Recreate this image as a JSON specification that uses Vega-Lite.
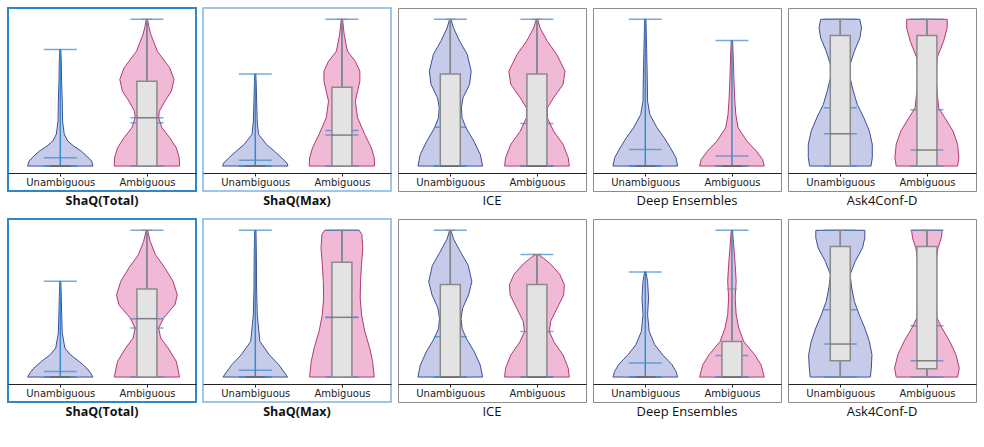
{
"$schema": "https://vega.github.io/schema/vega-lite/v6.json",
"padding": {"left": 7, "top": 7, "right": 0, "bottom": 0},
"background": "white",
"columns": 5,
"spacing": {"row": 9, "column": 5},
"data": {"values": [
{"k":"v","p":1,"g":1,"v":0,"w":1},{"k":"v","p":1,"g":1,"v":0.034,"w":0.96},{"k":"v","p":1,"g":1,"v":0.068,"w":0.81},{"k":"v","p":1,"g":1,"v":0.102,"w":0.64},{"k":"v","p":1,"g":1,"v":0.136,"w":0.41},{"k":"v","p":1,"g":1,"v":0.17,"w":0.23},{"k":"v","p":1,"g":1,"v":0.218,"w":0.12},{"k":"v","p":1,"g":1,"v":0.306,"w":0.07},{"k":"v","p":1,"g":1,"v":0.442,"w":0.06},{"k":"v","p":1,"g":1,"v":0.578,"w":0.04},{"k":"v","p":1,"g":1,"v":0.714,"w":0.03},{"k":"v","p":1,"g":1,"v":0.794,"w":0.015},
{"k":"v","p":1,"g":2,"v":0,"w":1},{"k":"v","p":1,"g":2,"v":0.056,"w":0.99},{"k":"v","p":1,"g":2,"v":0.124,"w":0.9},{"k":"v","p":1,"g":2,"v":0.193,"w":0.7},{"k":"v","p":1,"g":2,"v":0.261,"w":0.46},{"k":"v","p":1,"g":2,"v":0.329,"w":0.36},{"k":"v","p":1,"g":2,"v":0.374,"w":0.38},{"k":"v","p":1,"g":2,"v":0.442,"w":0.55},{"k":"v","p":1,"g":2,"v":0.51,"w":0.75},{"k":"v","p":1,"g":2,"v":0.59,"w":0.83},{"k":"v","p":1,"g":2,"v":0.669,"w":0.7},{"k":"v","p":1,"g":2,"v":0.782,"w":0.32},{"k":"v","p":1,"g":2,"v":0.896,"w":0.12},{"k":"v","p":1,"g":2,"v":0.95,"w":0.06},{"k":"v","p":1,"g":2,"v":1,"w":0.02},
{"k":"v","p":2,"g":1,"v":0,"w":1},{"k":"v","p":2,"g":1,"v":0.02,"w":0.97},{"k":"v","p":2,"g":1,"v":0.056,"w":0.81},{"k":"v","p":2,"g":1,"v":0.102,"w":0.58},{"k":"v","p":2,"g":1,"v":0.148,"w":0.34},{"k":"v","p":2,"g":1,"v":0.216,"w":0.1},{"k":"v","p":2,"g":1,"v":0.3,"w":0.06},{"k":"v","p":2,"g":1,"v":0.45,"w":0.04},{"k":"v","p":2,"g":1,"v":0.55,"w":0.03},{"k":"v","p":2,"g":1,"v":0.628,"w":0.015},
{"k":"v","p":2,"g":2,"v":0,"w":1},{"k":"v","p":2,"g":2,"v":0.056,"w":0.99},{"k":"v","p":2,"g":2,"v":0.124,"w":0.9},{"k":"v","p":2,"g":2,"v":0.216,"w":0.7},{"k":"v","p":2,"g":2,"v":0.329,"w":0.48},{"k":"v","p":2,"g":2,"v":0.442,"w":0.41},{"k":"v","p":2,"g":2,"v":0.51,"w":0.48},{"k":"v","p":2,"g":2,"v":0.578,"w":0.55},{"k":"v","p":2,"g":2,"v":0.646,"w":0.55},{"k":"v","p":2,"g":2,"v":0.714,"w":0.41},{"k":"v","p":2,"g":2,"v":0.782,"w":0.17},{"k":"v","p":2,"g":2,"v":0.896,"w":0.07},{"k":"v","p":2,"g":2,"v":1,"w":0.02},
{"k":"v","p":3,"g":1,"v":0,"w":0.99},{"k":"v","p":3,"g":1,"v":0.079,"w":0.92},{"k":"v","p":3,"g":1,"v":0.17,"w":0.72},{"k":"v","p":3,"g":1,"v":0.261,"w":0.48},{"k":"v","p":3,"g":1,"v":0.329,"w":0.36},{"k":"v","p":3,"g":1,"v":0.397,"w":0.34},{"k":"v","p":3,"g":1,"v":0.465,"w":0.39},{"k":"v","p":3,"g":1,"v":0.556,"w":0.59},{"k":"v","p":3,"g":1,"v":0.646,"w":0.64},{"k":"v","p":3,"g":1,"v":0.76,"w":0.52},{"k":"v","p":3,"g":1,"v":0.85,"w":0.29},{"k":"v","p":3,"g":1,"v":0.94,"w":0.1},{"k":"v","p":3,"g":1,"v":1,"w":0.02},
{"k":"v","p":3,"g":2,"v":0,"w":0.99},{"k":"v","p":3,"g":2,"v":0.056,"w":0.96},{"k":"v","p":3,"g":2,"v":0.148,"w":0.8},{"k":"v","p":3,"g":2,"v":0.238,"w":0.51},{"k":"v","p":3,"g":2,"v":0.329,"w":0.32},{"k":"v","p":3,"g":2,"v":0.397,"w":0.32},{"k":"v","p":3,"g":2,"v":0.465,"w":0.51},{"k":"v","p":3,"g":2,"v":0.556,"w":0.8},{"k":"v","p":3,"g":2,"v":0.646,"w":0.86},{"k":"v","p":3,"g":2,"v":0.76,"w":0.61},{"k":"v","p":3,"g":2,"v":0.85,"w":0.32},{"k":"v","p":3,"g":2,"v":0.94,"w":0.1},{"k":"v","p":3,"g":2,"v":1,"w":0.02},
{"k":"v","p":4,"g":1,"v":0,"w":0.99},{"k":"v","p":4,"g":1,"v":0.056,"w":0.94},{"k":"v","p":4,"g":1,"v":0.124,"w":0.77},{"k":"v","p":4,"g":1,"v":0.193,"w":0.58},{"k":"v","p":4,"g":1,"v":0.261,"w":0.36},{"k":"v","p":4,"g":1,"v":0.351,"w":0.14},{"k":"v","p":4,"g":1,"v":0.442,"w":0.07},{"k":"v","p":4,"g":1,"v":0.6,"w":0.06},{"k":"v","p":4,"g":1,"v":0.8,"w":0.04},{"k":"v","p":4,"g":1,"v":1,"w":0.02},
{"k":"v","p":4,"g":2,"v":0,"w":0.99},{"k":"v","p":4,"g":2,"v":0.045,"w":0.94},{"k":"v","p":4,"g":2,"v":0.102,"w":0.75},{"k":"v","p":4,"g":2,"v":0.17,"w":0.46},{"k":"v","p":4,"g":2,"v":0.261,"w":0.19},{"k":"v","p":4,"g":2,"v":0.35,"w":0.12},{"k":"v","p":4,"g":2,"v":0.442,"w":0.09},{"k":"v","p":4,"g":2,"v":0.6,"w":0.06},{"k":"v","p":4,"g":2,"v":0.75,"w":0.04},{"k":"v","p":4,"g":2,"v":0.855,"w":0.02},
{"k":"v","p":5,"g":1,"v":0,"w":0.94},{"k":"v","p":5,"g":1,"v":0.056,"w":0.98},{"k":"v","p":5,"g":1,"v":0.148,"w":0.98},{"k":"v","p":5,"g":1,"v":0.238,"w":0.89},{"k":"v","p":5,"g":1,"v":0.329,"w":0.72},{"k":"v","p":5,"g":1,"v":0.42,"w":0.52},{"k":"v","p":5,"g":1,"v":0.51,"w":0.4},{"k":"v","p":5,"g":1,"v":0.601,"w":0.3},{"k":"v","p":5,"g":1,"v":0.692,"w":0.3},{"k":"v","p":5,"g":1,"v":0.782,"w":0.43},{"k":"v","p":5,"g":1,"v":0.873,"w":0.6},{"k":"v","p":5,"g":1,"v":0.941,"w":0.65},{"k":"v","p":5,"g":1,"v":1,"w":0.6},
{"k":"v","p":5,"g":2,"v":0,"w":0.94},{"k":"v","p":5,"g":2,"v":0.056,"w":0.98},{"k":"v","p":5,"g":2,"v":0.148,"w":0.94},{"k":"v","p":5,"g":2,"v":0.238,"w":0.8},{"k":"v","p":5,"g":2,"v":0.329,"w":0.55},{"k":"v","p":5,"g":2,"v":0.397,"w":0.36},{"k":"v","p":5,"g":2,"v":0.51,"w":0.31},{"k":"v","p":5,"g":2,"v":0.624,"w":0.28},{"k":"v","p":5,"g":2,"v":0.737,"w":0.31},{"k":"v","p":5,"g":2,"v":0.85,"w":0.51},{"k":"v","p":5,"g":2,"v":0.941,"w":0.62},{"k":"v","p":5,"g":2,"v":1,"w":0.62},
{"k":"v","p":6,"g":1,"v":0,"w":1},{"k":"v","p":6,"g":1,"v":0.03,"w":0.92},{"k":"v","p":6,"g":1,"v":0.061,"w":0.81},{"k":"v","p":6,"g":1,"v":0.106,"w":0.58},{"k":"v","p":6,"g":1,"v":0.152,"w":0.31},{"k":"v","p":6,"g":1,"v":0.198,"w":0.14},{"k":"v","p":6,"g":1,"v":0.3,"w":0.06},{"k":"v","p":6,"g":1,"v":0.45,"w":0.04},{"k":"v","p":6,"g":1,"v":0.55,"w":0.03},{"k":"v","p":6,"g":1,"v":0.652,"w":0.015},
{"k":"v","p":6,"g":2,"v":0,"w":1},{"k":"v","p":6,"g":2,"v":0.106,"w":0.9},{"k":"v","p":6,"g":2,"v":0.198,"w":0.65},{"k":"v","p":6,"g":2,"v":0.266,"w":0.42},{"k":"v","p":6,"g":2,"v":0.334,"w":0.36},{"k":"v","p":6,"g":2,"v":0.402,"w":0.51},{"k":"v","p":6,"g":2,"v":0.493,"w":0.86},{"k":"v","p":6,"g":2,"v":0.561,"w":0.93},{"k":"v","p":6,"g":2,"v":0.652,"w":0.8},{"k":"v","p":6,"g":2,"v":0.744,"w":0.55},{"k":"v","p":6,"g":2,"v":0.834,"w":0.26},{"k":"v","p":6,"g":2,"v":0.925,"w":0.1},{"k":"v","p":6,"g":2,"v":1,"w":0.02},
{"k":"v","p":7,"g":1,"v":0,"w":0.99},{"k":"v","p":7,"g":1,"v":0.038,"w":0.87},{"k":"v","p":7,"g":1,"v":0.084,"w":0.72},{"k":"v","p":7,"g":1,"v":0.152,"w":0.43},{"k":"v","p":7,"g":1,"v":0.243,"w":0.14},{"k":"v","p":7,"g":1,"v":0.425,"w":0.06},{"k":"v","p":7,"g":1,"v":0.6,"w":0.04},{"k":"v","p":7,"g":1,"v":0.8,"w":0.035},{"k":"v","p":7,"g":1,"v":1,"w":0.02},
{"k":"v","p":7,"g":2,"v":0,"w":0.99},{"k":"v","p":7,"g":2,"v":0.106,"w":0.94},{"k":"v","p":7,"g":2,"v":0.198,"w":0.85},{"k":"v","p":7,"g":2,"v":0.311,"w":0.7},{"k":"v","p":7,"g":2,"v":0.425,"w":0.6},{"k":"v","p":7,"g":2,"v":0.539,"w":0.56},{"k":"v","p":7,"g":2,"v":0.652,"w":0.57},{"k":"v","p":7,"g":2,"v":0.766,"w":0.6},{"k":"v","p":7,"g":2,"v":0.88,"w":0.64},{"k":"v","p":7,"g":2,"v":0.971,"w":0.61},{"k":"v","p":7,"g":2,"v":1,"w":0.53},
{"k":"v","p":8,"g":1,"v":0,"w":0.99},{"k":"v","p":8,"g":1,"v":0.08,"w":0.92},{"k":"v","p":8,"g":1,"v":0.17,"w":0.74},{"k":"v","p":8,"g":1,"v":0.26,"w":0.5},{"k":"v","p":8,"g":1,"v":0.33,"w":0.36},{"k":"v","p":8,"g":1,"v":0.4,"w":0.33},{"k":"v","p":8,"g":1,"v":0.47,"w":0.38},{"k":"v","p":8,"g":1,"v":0.56,"w":0.56},{"k":"v","p":8,"g":1,"v":0.65,"w":0.66},{"k":"v","p":8,"g":1,"v":0.76,"w":0.55},{"k":"v","p":8,"g":1,"v":0.85,"w":0.32},{"k":"v","p":8,"g":1,"v":0.94,"w":0.1},{"k":"v","p":8,"g":1,"v":1,"w":0.02},
{"k":"v","p":8,"g":2,"v":0,"w":0.99},{"k":"v","p":8,"g":2,"v":0.06,"w":0.96},{"k":"v","p":8,"g":2,"v":0.15,"w":0.8},{"k":"v","p":8,"g":2,"v":0.24,"w":0.52},{"k":"v","p":8,"g":2,"v":0.31,"w":0.38},{"k":"v","p":8,"g":2,"v":0.38,"w":0.42},{"k":"v","p":8,"g":2,"v":0.47,"w":0.62},{"k":"v","p":8,"g":2,"v":0.56,"w":0.82},{"k":"v","p":8,"g":2,"v":0.63,"w":0.84},{"k":"v","p":8,"g":2,"v":0.7,"w":0.7},{"k":"v","p":8,"g":2,"v":0.77,"w":0.42},{"k":"v","p":8,"g":2,"v":0.81,"w":0.2},{"k":"v","p":8,"g":2,"v":0.835,"w":0.04},
{"k":"v","p":9,"g":1,"v":0,"w":0.99},{"k":"v","p":9,"g":1,"v":0.038,"w":0.94},{"k":"v","p":9,"g":1,"v":0.084,"w":0.82},{"k":"v","p":9,"g":1,"v":0.152,"w":0.53},{"k":"v","p":9,"g":1,"v":0.22,"w":0.29},{"k":"v","p":9,"g":1,"v":0.311,"w":0.12},{"k":"v","p":9,"g":1,"v":0.425,"w":0.07},{"k":"v","p":9,"g":1,"v":0.539,"w":0.1},{"k":"v","p":9,"g":1,"v":0.652,"w":0.07},{"k":"v","p":9,"g":1,"v":0.716,"w":0.02},
{"k":"v","p":9,"g":2,"v":0,"w":0.99},{"k":"v","p":9,"g":2,"v":0.084,"w":0.89},{"k":"v","p":9,"g":2,"v":0.152,"w":0.7},{"k":"v","p":9,"g":2,"v":0.243,"w":0.36},{"k":"v","p":9,"g":2,"v":0.334,"w":0.21},{"k":"v","p":9,"g":2,"v":0.425,"w":0.13},{"k":"v","p":9,"g":2,"v":0.539,"w":0.1},{"k":"v","p":9,"g":2,"v":0.652,"w":0.13},{"k":"v","p":9,"g":2,"v":0.766,"w":0.1},{"k":"v","p":9,"g":2,"v":0.88,"w":0.06},{"k":"v","p":9,"g":2,"v":1,"w":0.02},
{"k":"v","p":10,"g":1,"v":0,"w":0.92},{"k":"v","p":10,"g":1,"v":0.061,"w":0.95},{"k":"v","p":10,"g":1,"v":0.152,"w":0.97},{"k":"v","p":10,"g":1,"v":0.243,"w":0.89},{"k":"v","p":10,"g":1,"v":0.334,"w":0.75},{"k":"v","p":10,"g":1,"v":0.425,"w":0.58},{"k":"v","p":10,"g":1,"v":0.516,"w":0.43},{"k":"v","p":10,"g":1,"v":0.607,"w":0.35},{"k":"v","p":10,"g":1,"v":0.698,"w":0.3},{"k":"v","p":10,"g":1,"v":0.789,"w":0.46},{"k":"v","p":10,"g":1,"v":0.88,"w":0.68},{"k":"v","p":10,"g":1,"v":0.948,"w":0.75},{"k":"v","p":10,"g":1,"v":1,"w":0.75},
{"k":"v","p":10,"g":2,"v":0,"w":0.94},{"k":"v","p":10,"g":2,"v":0.061,"w":0.99},{"k":"v","p":10,"g":2,"v":0.152,"w":0.89},{"k":"v","p":10,"g":2,"v":0.243,"w":0.7},{"k":"v","p":10,"g":2,"v":0.334,"w":0.46},{"k":"v","p":10,"g":2,"v":0.402,"w":0.31},{"k":"v","p":10,"g":2,"v":0.516,"w":0.28},{"k":"v","p":10,"g":2,"v":0.652,"w":0.28},{"k":"v","p":10,"g":2,"v":0.789,"w":0.28},{"k":"v","p":10,"g":2,"v":0.88,"w":0.34},{"k":"v","p":10,"g":2,"v":0.948,"w":0.44},{"k":"v","p":10,"g":2,"v":1,"w":0.47},
{"k":"s","p":1,"g":1,"mn":0,"q1":0,"md":0,"q3":0,"mx":0.794,"mean":0.056,"wl":0,"wh":0},
{"k":"s","p":1,"g":2,"mn":0,"q1":0,"md":0.329,"q3":0.578,"mx":1,"mean":0.295,"wl":0,"wh":1},
{"k":"s","p":2,"g":1,"mn":0,"q1":0,"md":0,"q3":0,"mx":0.628,"mean":0.039,"wl":0,"wh":0},
{"k":"s","p":2,"g":2,"mn":0,"q1":0,"md":0.211,"q3":0.537,"mx":1,"mean":0.243,"wl":0,"wh":1},
{"k":"s","p":3,"g":1,"mn":0,"q1":0,"md":0,"q3":0.628,"mx":1,"mean":0.265,"wl":0,"wh":1},
{"k":"s","p":3,"g":2,"mn":0,"q1":0,"md":0,"q3":0.628,"mx":1,"mean":0.29,"wl":0,"wh":1},
{"k":"s","p":4,"g":1,"mn":0,"q1":0,"md":0,"q3":0,"mx":1,"mean":0.113,"wl":0,"wh":0},
{"k":"s","p":4,"g":2,"mn":0,"q1":0,"md":0,"q3":0,"mx":0.855,"mean":0.068,"wl":0,"wh":0},
{"k":"s","p":5,"g":1,"mn":0,"q1":0,"md":0.22,"q3":0.889,"mx":1,"mean":0.397,"wl":0,"wh":1},
{"k":"s","p":5,"g":2,"mn":0,"q1":0,"md":0.109,"q3":0.889,"mx":1,"mean":0.383,"wl":0,"wh":1},
{"k":"s","p":6,"g":1,"mn":0,"q1":0,"md":0,"q3":0,"mx":0.652,"mean":0.038,"wl":0,"wh":0},
{"k":"s","p":6,"g":2,"mn":0,"q1":0,"md":0.398,"q3":0.6,"mx":1,"mean":0.334,"wl":0,"wh":1},
{"k":"s","p":7,"g":1,"mn":0,"q1":0,"md":0,"q3":0,"mx":1,"mean":0.047,"wl":0,"wh":0},
{"k":"s","p":7,"g":2,"mn":0,"q1":0,"md":0.407,"q3":0.782,"mx":1,"mean":0.405,"wl":0,"wh":1},
{"k":"s","p":8,"g":1,"mn":0,"q1":0,"md":0,"q3":0.63,"mx":1,"mean":0.275,"wl":0,"wh":1},
{"k":"s","p":8,"g":2,"mn":0,"q1":0,"md":0,"q3":0.63,"mx":0.835,"mean":0.31,"wl":0,"wh":0.835},
{"k":"s","p":9,"g":1,"mn":0,"q1":0,"md":0,"q3":0,"mx":0.716,"mean":0.095,"wl":0,"wh":0},
{"k":"s","p":9,"g":2,"mn":0,"q1":0,"md":0,"q3":0.243,"mx":1,"mean":0.147,"wl":0,"wh":0.6},
{"k":"s","p":10,"g":1,"mn":0,"q1":0.111,"md":0.225,"q3":0.889,"mx":1,"mean":0.459,"wl":0,"wh":1},
{"k":"s","p":10,"g":2,"mn":0,"q1":0.057,"md":0.111,"q3":0.889,"mx":1,"mean":0.35,"wl":0,"wh":1}
]},
"concat": [
{"width":188,"height":183,"view":{"stroke":"#2f86c8","strokeWidth":2},"title":{"text":"ShaQ(Total)","fontWeight":"bold","fontSize":12.5},"transform":[{"filter":"datum.p==1"}],"resolve":{"axis":{"x":"independent","y":"independent"}},"layer":[
{"transform":[{"filter":"datum.k=='v'"},{"calculate":"datum.g-0.377*datum.w","as":"lo"},{"calculate":"datum.g+0.377*datum.w","as":"hi"}],"mark":{"type":"area","orient":"horizontal","strokeWidth":1},"encoding":{"y":{"field":"v","type":"quantitative","scale":{"domain":[-0.17,1.077],"nice":false,"zero":false},"axis":null},"x":{"field":"lo","type":"quantitative","scale":{"domain":[0.454,2.509],"nice":false,"zero":false},"axis":{"values":[1,2],"labelExpr":"datum.value==1?'Unambiguous':'Ambiguous'","title":null,"offset":-18,"grid":false,"domainColor":"#222","domainWidth":1.2,"tickColor":"#222","tickSize":3,"labelFont":"DejaVu Sans","labelFontSize":10,"labelColor":"#222","labelPadding":1}},"x2":{"field":"hi"},"fill":{"field":"g","type":"nominal","scale":{"domain":[1,2],"range":["#c6cbea","#f0bad6"]},"legend":null},"stroke":{"field":"g","type":"nominal","scale":{"domain":[1,2],"range":["#3d4f96","#b03a72"]},"legend":null}}},
{"transform":[{"filter":"datum.k=='s'"}],"mark":{"type":"rule","color":"#3b88cc","strokeWidth":1.5},"encoding":{"x":{"field":"g","type":"quantitative","axis":null},"y":{"field":"mn","type":"quantitative","axis":null},"y2":{"field":"mx"}}},
{"transform":[{"filter":"datum.k=='s'"},{"fold":["mn","mx","mean","md"],"as":["key","val"]}],"mark":{"type":"tick","orient":"horizontal","color":"#3b88cc","size":33,"thickness":1.5},"encoding":{"x":{"field":"g","type":"quantitative","axis":null},"y":{"field":"val","type":"quantitative","axis":null}}},
{"transform":[{"filter":"datum.k=='s'"}],"mark":{"type":"rule","color":"#8a8a8a","strokeWidth":1.5},"encoding":{"x":{"field":"g","type":"quantitative","axis":null},"y":{"field":"wl","type":"quantitative","axis":null},"y2":{"field":"wh"}}},
{"transform":[{"filter":"datum.k=='s'"},{"fold":["wl","wh"],"as":["key","val"]}],"mark":{"type":"tick","orient":"horizontal","color":"#8a8a8a","size":10,"thickness":1.5},"encoding":{"x":{"field":"g","type":"quantitative","axis":null},"y":{"field":"val","type":"quantitative","axis":null}}},
{"transform":[{"filter":"datum.k=='s'"}],"mark":{"type":"bar","size":20,"fill":"#e3e3e3","stroke":"#8a8a8a","strokeWidth":1.5},"encoding":{"x":{"field":"g","type":"quantitative","axis":null},"y":{"field":"q1","type":"quantitative","axis":null},"y2":{"field":"q3"}}},
{"transform":[{"filter":"datum.k=='s'"}],"mark":{"type":"tick","orient":"horizontal","color":"#555555","size":20,"thickness":1.5},"encoding":{"x":{"field":"g","type":"quantitative","axis":null},"y":{"field":"md","type":"quantitative","axis":null}}}
]},
{"width":188,"height":183,"view":{"stroke":"#7fb3e3","strokeWidth":1.5},"title":{"text":"ShaQ(Max)","fontWeight":"bold","fontSize":12.5},"transform":[{"filter":"datum.p==2"}],"resolve":{"axis":{"x":"independent","y":"independent"}},"layer":[
{"transform":[{"filter":"datum.k=='v'"},{"calculate":"datum.g-0.377*datum.w","as":"lo"},{"calculate":"datum.g+0.377*datum.w","as":"hi"}],"mark":{"type":"area","orient":"horizontal","strokeWidth":1},"encoding":{"y":{"field":"v","type":"quantitative","scale":{"domain":[-0.17,1.077],"nice":false,"zero":false},"axis":null},"x":{"field":"lo","type":"quantitative","scale":{"domain":[0.454,2.509],"nice":false,"zero":false},"axis":{"values":[1,2],"labelExpr":"datum.value==1?'Unambiguous':'Ambiguous'","title":null,"offset":-18,"grid":false,"domainColor":"#222","domainWidth":1.2,"tickColor":"#222","tickSize":3,"labelFont":"DejaVu Sans","labelFontSize":10,"labelColor":"#222","labelPadding":1}},"x2":{"field":"hi"},"fill":{"field":"g","type":"nominal","scale":{"domain":[1,2],"range":["#c6cbea","#f0bad6"]},"legend":null},"stroke":{"field":"g","type":"nominal","scale":{"domain":[1,2],"range":["#3d4f96","#b03a72"]},"legend":null}}},
{"transform":[{"filter":"datum.k=='s'"}],"mark":{"type":"rule","color":"#3b88cc","strokeWidth":1.5},"encoding":{"x":{"field":"g","type":"quantitative","axis":null},"y":{"field":"mn","type":"quantitative","axis":null},"y2":{"field":"mx"}}},
{"transform":[{"filter":"datum.k=='s'"},{"fold":["mn","mx","mean","md"],"as":["key","val"]}],"mark":{"type":"tick","orient":"horizontal","color":"#3b88cc","size":33,"thickness":1.5},"encoding":{"x":{"field":"g","type":"quantitative","axis":null},"y":{"field":"val","type":"quantitative","axis":null}}},
{"transform":[{"filter":"datum.k=='s'"}],"mark":{"type":"rule","color":"#8a8a8a","strokeWidth":1.5},"encoding":{"x":{"field":"g","type":"quantitative","axis":null},"y":{"field":"wl","type":"quantitative","axis":null},"y2":{"field":"wh"}}},
{"transform":[{"filter":"datum.k=='s'"},{"fold":["wl","wh"],"as":["key","val"]}],"mark":{"type":"tick","orient":"horizontal","color":"#8a8a8a","size":10,"thickness":1.5},"encoding":{"x":{"field":"g","type":"quantitative","axis":null},"y":{"field":"val","type":"quantitative","axis":null}}},
{"transform":[{"filter":"datum.k=='s'"}],"mark":{"type":"bar","size":20,"fill":"#e3e3e3","stroke":"#8a8a8a","strokeWidth":1.5},"encoding":{"x":{"field":"g","type":"quantitative","axis":null},"y":{"field":"q1","type":"quantitative","axis":null},"y2":{"field":"q3"}}},
{"transform":[{"filter":"datum.k=='s'"}],"mark":{"type":"tick","orient":"horizontal","color":"#555555","size":20,"thickness":1.5},"encoding":{"x":{"field":"g","type":"quantitative","axis":null},"y":{"field":"md","type":"quantitative","axis":null}}}
]},
{"width":188,"height":183,"title":{"text":"ICE"},"transform":[{"filter":"datum.p==3"}],"resolve":{"axis":{"x":"independent","y":"independent"}},"layer":[
{"transform":[{"filter":"datum.k=='v'"},{"calculate":"datum.g-0.377*datum.w","as":"lo"},{"calculate":"datum.g+0.377*datum.w","as":"hi"}],"mark":{"type":"area","orient":"horizontal","strokeWidth":1},"encoding":{"y":{"field":"v","type":"quantitative","scale":{"domain":[-0.17,1.077],"nice":false,"zero":false},"axis":null},"x":{"field":"lo","type":"quantitative","scale":{"domain":[0.454,2.509],"nice":false,"zero":false},"axis":{"values":[1,2],"labelExpr":"datum.value==1?'Unambiguous':'Ambiguous'","title":null,"offset":-18,"grid":false,"domainColor":"#222","domainWidth":1.2,"tickColor":"#222","tickSize":3,"labelFont":"DejaVu Sans","labelFontSize":10,"labelColor":"#222","labelPadding":1}},"x2":{"field":"hi"},"fill":{"field":"g","type":"nominal","scale":{"domain":[1,2],"range":["#c6cbea","#f0bad6"]},"legend":null},"stroke":{"field":"g","type":"nominal","scale":{"domain":[1,2],"range":["#3d4f96","#b03a72"]},"legend":null}}},
{"transform":[{"filter":"datum.k=='s'"}],"mark":{"type":"rule","color":"#3b88cc","strokeWidth":1.5},"encoding":{"x":{"field":"g","type":"quantitative","axis":null},"y":{"field":"mn","type":"quantitative","axis":null},"y2":{"field":"mx"}}},
{"transform":[{"filter":"datum.k=='s'"},{"fold":["mn","mx","mean","md"],"as":["key","val"]}],"mark":{"type":"tick","orient":"horizontal","color":"#3b88cc","size":33,"thickness":1.5},"encoding":{"x":{"field":"g","type":"quantitative","axis":null},"y":{"field":"val","type":"quantitative","axis":null}}},
{"transform":[{"filter":"datum.k=='s'"}],"mark":{"type":"rule","color":"#8a8a8a","strokeWidth":1.5},"encoding":{"x":{"field":"g","type":"quantitative","axis":null},"y":{"field":"wl","type":"quantitative","axis":null},"y2":{"field":"wh"}}},
{"transform":[{"filter":"datum.k=='s'"},{"fold":["wl","wh"],"as":["key","val"]}],"mark":{"type":"tick","orient":"horizontal","color":"#8a8a8a","size":10,"thickness":1.5},"encoding":{"x":{"field":"g","type":"quantitative","axis":null},"y":{"field":"val","type":"quantitative","axis":null}}},
{"transform":[{"filter":"datum.k=='s'"}],"mark":{"type":"bar","size":20,"fill":"#e3e3e3","stroke":"#8a8a8a","strokeWidth":1.5},"encoding":{"x":{"field":"g","type":"quantitative","axis":null},"y":{"field":"q1","type":"quantitative","axis":null},"y2":{"field":"q3"}}},
{"transform":[{"filter":"datum.k=='s'"}],"mark":{"type":"tick","orient":"horizontal","color":"#555555","size":20,"thickness":1.5},"encoding":{"x":{"field":"g","type":"quantitative","axis":null},"y":{"field":"md","type":"quantitative","axis":null}}}
]},
{"width":188,"height":183,"title":{"text":"Deep Ensembles"},"transform":[{"filter":"datum.p==4"}],"resolve":{"axis":{"x":"independent","y":"independent"}},"layer":[
{"transform":[{"filter":"datum.k=='v'"},{"calculate":"datum.g-0.377*datum.w","as":"lo"},{"calculate":"datum.g+0.377*datum.w","as":"hi"}],"mark":{"type":"area","orient":"horizontal","strokeWidth":1},"encoding":{"y":{"field":"v","type":"quantitative","scale":{"domain":[-0.17,1.077],"nice":false,"zero":false},"axis":null},"x":{"field":"lo","type":"quantitative","scale":{"domain":[0.454,2.509],"nice":false,"zero":false},"axis":{"values":[1,2],"labelExpr":"datum.value==1?'Unambiguous':'Ambiguous'","title":null,"offset":-18,"grid":false,"domainColor":"#222","domainWidth":1.2,"tickColor":"#222","tickSize":3,"labelFont":"DejaVu Sans","labelFontSize":10,"labelColor":"#222","labelPadding":1}},"x2":{"field":"hi"},"fill":{"field":"g","type":"nominal","scale":{"domain":[1,2],"range":["#c6cbea","#f0bad6"]},"legend":null},"stroke":{"field":"g","type":"nominal","scale":{"domain":[1,2],"range":["#3d4f96","#b03a72"]},"legend":null}}},
{"transform":[{"filter":"datum.k=='s'"}],"mark":{"type":"rule","color":"#3b88cc","strokeWidth":1.5},"encoding":{"x":{"field":"g","type":"quantitative","axis":null},"y":{"field":"mn","type":"quantitative","axis":null},"y2":{"field":"mx"}}},
{"transform":[{"filter":"datum.k=='s'"},{"fold":["mn","mx","mean","md"],"as":["key","val"]}],"mark":{"type":"tick","orient":"horizontal","color":"#3b88cc","size":33,"thickness":1.5},"encoding":{"x":{"field":"g","type":"quantitative","axis":null},"y":{"field":"val","type":"quantitative","axis":null}}},
{"transform":[{"filter":"datum.k=='s'"}],"mark":{"type":"rule","color":"#8a8a8a","strokeWidth":1.5},"encoding":{"x":{"field":"g","type":"quantitative","axis":null},"y":{"field":"wl","type":"quantitative","axis":null},"y2":{"field":"wh"}}},
{"transform":[{"filter":"datum.k=='s'"},{"fold":["wl","wh"],"as":["key","val"]}],"mark":{"type":"tick","orient":"horizontal","color":"#8a8a8a","size":10,"thickness":1.5},"encoding":{"x":{"field":"g","type":"quantitative","axis":null},"y":{"field":"val","type":"quantitative","axis":null}}},
{"transform":[{"filter":"datum.k=='s'"}],"mark":{"type":"bar","size":20,"fill":"#e3e3e3","stroke":"#8a8a8a","strokeWidth":1.5},"encoding":{"x":{"field":"g","type":"quantitative","axis":null},"y":{"field":"q1","type":"quantitative","axis":null},"y2":{"field":"q3"}}},
{"transform":[{"filter":"datum.k=='s'"}],"mark":{"type":"tick","orient":"horizontal","color":"#555555","size":20,"thickness":1.5},"encoding":{"x":{"field":"g","type":"quantitative","axis":null},"y":{"field":"md","type":"quantitative","axis":null}}}
]},
{"width":188,"height":183,"title":{"text":"Ask4Conf-D"},"transform":[{"filter":"datum.p==5"}],"resolve":{"axis":{"x":"independent","y":"independent"}},"layer":[
{"transform":[{"filter":"datum.k=='v'"},{"calculate":"datum.g-0.377*datum.w","as":"lo"},{"calculate":"datum.g+0.377*datum.w","as":"hi"}],"mark":{"type":"area","orient":"horizontal","strokeWidth":1},"encoding":{"y":{"field":"v","type":"quantitative","scale":{"domain":[-0.17,1.077],"nice":false,"zero":false},"axis":null},"x":{"field":"lo","type":"quantitative","scale":{"domain":[0.454,2.509],"nice":false,"zero":false},"axis":{"values":[1,2],"labelExpr":"datum.value==1?'Unambiguous':'Ambiguous'","title":null,"offset":-18,"grid":false,"domainColor":"#222","domainWidth":1.2,"tickColor":"#222","tickSize":3,"labelFont":"DejaVu Sans","labelFontSize":10,"labelColor":"#222","labelPadding":1}},"x2":{"field":"hi"},"fill":{"field":"g","type":"nominal","scale":{"domain":[1,2],"range":["#c6cbea","#f0bad6"]},"legend":null},"stroke":{"field":"g","type":"nominal","scale":{"domain":[1,2],"range":["#3d4f96","#b03a72"]},"legend":null}}},
{"transform":[{"filter":"datum.k=='s'"}],"mark":{"type":"rule","color":"#3b88cc","strokeWidth":1.5},"encoding":{"x":{"field":"g","type":"quantitative","axis":null},"y":{"field":"mn","type":"quantitative","axis":null},"y2":{"field":"mx"}}},
{"transform":[{"filter":"datum.k=='s'"},{"fold":["mn","mx","mean","md"],"as":["key","val"]}],"mark":{"type":"tick","orient":"horizontal","color":"#3b88cc","size":33,"thickness":1.5},"encoding":{"x":{"field":"g","type":"quantitative","axis":null},"y":{"field":"val","type":"quantitative","axis":null}}},
{"transform":[{"filter":"datum.k=='s'"}],"mark":{"type":"rule","color":"#8a8a8a","strokeWidth":1.5},"encoding":{"x":{"field":"g","type":"quantitative","axis":null},"y":{"field":"wl","type":"quantitative","axis":null},"y2":{"field":"wh"}}},
{"transform":[{"filter":"datum.k=='s'"},{"fold":["wl","wh"],"as":["key","val"]}],"mark":{"type":"tick","orient":"horizontal","color":"#8a8a8a","size":10,"thickness":1.5},"encoding":{"x":{"field":"g","type":"quantitative","axis":null},"y":{"field":"val","type":"quantitative","axis":null}}},
{"transform":[{"filter":"datum.k=='s'"}],"mark":{"type":"bar","size":20,"fill":"#e3e3e3","stroke":"#8a8a8a","strokeWidth":1.5},"encoding":{"x":{"field":"g","type":"quantitative","axis":null},"y":{"field":"q1","type":"quantitative","axis":null},"y2":{"field":"q3"}}},
{"transform":[{"filter":"datum.k=='s'"}],"mark":{"type":"tick","orient":"horizontal","color":"#555555","size":20,"thickness":1.5},"encoding":{"x":{"field":"g","type":"quantitative","axis":null},"y":{"field":"md","type":"quantitative","axis":null}}}
]},
{"width":188,"height":183,"view":{"stroke":"#2f86c8","strokeWidth":2},"title":{"text":"ShaQ(Total)","fontWeight":"bold","fontSize":12.5},"transform":[{"filter":"datum.p==6"}],"resolve":{"axis":{"x":"independent","y":"independent"}},"layer":[
{"transform":[{"filter":"datum.k=='v'"},{"calculate":"datum.g-0.377*datum.w","as":"lo"},{"calculate":"datum.g+0.377*datum.w","as":"hi"}],"mark":{"type":"area","orient":"horizontal","strokeWidth":1},"encoding":{"y":{"field":"v","type":"quantitative","scale":{"domain":[-0.17,1.077],"nice":false,"zero":false},"axis":null},"x":{"field":"lo","type":"quantitative","scale":{"domain":[0.454,2.509],"nice":false,"zero":false},"axis":{"values":[1,2],"labelExpr":"datum.value==1?'Unambiguous':'Ambiguous'","title":null,"offset":-18,"grid":false,"domainColor":"#222","domainWidth":1.2,"tickColor":"#222","tickSize":3,"labelFont":"DejaVu Sans","labelFontSize":10,"labelColor":"#222","labelPadding":1}},"x2":{"field":"hi"},"fill":{"field":"g","type":"nominal","scale":{"domain":[1,2],"range":["#c6cbea","#f0bad6"]},"legend":null},"stroke":{"field":"g","type":"nominal","scale":{"domain":[1,2],"range":["#3d4f96","#b03a72"]},"legend":null}}},
{"transform":[{"filter":"datum.k=='s'"}],"mark":{"type":"rule","color":"#3b88cc","strokeWidth":1.5},"encoding":{"x":{"field":"g","type":"quantitative","axis":null},"y":{"field":"mn","type":"quantitative","axis":null},"y2":{"field":"mx"}}},
{"transform":[{"filter":"datum.k=='s'"},{"fold":["mn","mx","mean","md"],"as":["key","val"]}],"mark":{"type":"tick","orient":"horizontal","color":"#3b88cc","size":33,"thickness":1.5},"encoding":{"x":{"field":"g","type":"quantitative","axis":null},"y":{"field":"val","type":"quantitative","axis":null}}},
{"transform":[{"filter":"datum.k=='s'"}],"mark":{"type":"rule","color":"#8a8a8a","strokeWidth":1.5},"encoding":{"x":{"field":"g","type":"quantitative","axis":null},"y":{"field":"wl","type":"quantitative","axis":null},"y2":{"field":"wh"}}},
{"transform":[{"filter":"datum.k=='s'"},{"fold":["wl","wh"],"as":["key","val"]}],"mark":{"type":"tick","orient":"horizontal","color":"#8a8a8a","size":10,"thickness":1.5},"encoding":{"x":{"field":"g","type":"quantitative","axis":null},"y":{"field":"val","type":"quantitative","axis":null}}},
{"transform":[{"filter":"datum.k=='s'"}],"mark":{"type":"bar","size":20,"fill":"#e3e3e3","stroke":"#8a8a8a","strokeWidth":1.5},"encoding":{"x":{"field":"g","type":"quantitative","axis":null},"y":{"field":"q1","type":"quantitative","axis":null},"y2":{"field":"q3"}}},
{"transform":[{"filter":"datum.k=='s'"}],"mark":{"type":"tick","orient":"horizontal","color":"#555555","size":20,"thickness":1.5},"encoding":{"x":{"field":"g","type":"quantitative","axis":null},"y":{"field":"md","type":"quantitative","axis":null}}}
]},
{"width":188,"height":183,"view":{"stroke":"#7fb3e3","strokeWidth":1.5},"title":{"text":"ShaQ(Max)","fontWeight":"bold","fontSize":12.5},"transform":[{"filter":"datum.p==7"}],"resolve":{"axis":{"x":"independent","y":"independent"}},"layer":[
{"transform":[{"filter":"datum.k=='v'"},{"calculate":"datum.g-0.377*datum.w","as":"lo"},{"calculate":"datum.g+0.377*datum.w","as":"hi"}],"mark":{"type":"area","orient":"horizontal","strokeWidth":1},"encoding":{"y":{"field":"v","type":"quantitative","scale":{"domain":[-0.17,1.077],"nice":false,"zero":false},"axis":null},"x":{"field":"lo","type":"quantitative","scale":{"domain":[0.454,2.509],"nice":false,"zero":false},"axis":{"values":[1,2],"labelExpr":"datum.value==1?'Unambiguous':'Ambiguous'","title":null,"offset":-18,"grid":false,"domainColor":"#222","domainWidth":1.2,"tickColor":"#222","tickSize":3,"labelFont":"DejaVu Sans","labelFontSize":10,"labelColor":"#222","labelPadding":1}},"x2":{"field":"hi"},"fill":{"field":"g","type":"nominal","scale":{"domain":[1,2],"range":["#c6cbea","#f0bad6"]},"legend":null},"stroke":{"field":"g","type":"nominal","scale":{"domain":[1,2],"range":["#3d4f96","#b03a72"]},"legend":null}}},
{"transform":[{"filter":"datum.k=='s'"}],"mark":{"type":"rule","color":"#3b88cc","strokeWidth":1.5},"encoding":{"x":{"field":"g","type":"quantitative","axis":null},"y":{"field":"mn","type":"quantitative","axis":null},"y2":{"field":"mx"}}},
{"transform":[{"filter":"datum.k=='s'"},{"fold":["mn","mx","mean","md"],"as":["key","val"]}],"mark":{"type":"tick","orient":"horizontal","color":"#3b88cc","size":33,"thickness":1.5},"encoding":{"x":{"field":"g","type":"quantitative","axis":null},"y":{"field":"val","type":"quantitative","axis":null}}},
{"transform":[{"filter":"datum.k=='s'"}],"mark":{"type":"rule","color":"#8a8a8a","strokeWidth":1.5},"encoding":{"x":{"field":"g","type":"quantitative","axis":null},"y":{"field":"wl","type":"quantitative","axis":null},"y2":{"field":"wh"}}},
{"transform":[{"filter":"datum.k=='s'"},{"fold":["wl","wh"],"as":["key","val"]}],"mark":{"type":"tick","orient":"horizontal","color":"#8a8a8a","size":10,"thickness":1.5},"encoding":{"x":{"field":"g","type":"quantitative","axis":null},"y":{"field":"val","type":"quantitative","axis":null}}},
{"transform":[{"filter":"datum.k=='s'"}],"mark":{"type":"bar","size":20,"fill":"#e3e3e3","stroke":"#8a8a8a","strokeWidth":1.5},"encoding":{"x":{"field":"g","type":"quantitative","axis":null},"y":{"field":"q1","type":"quantitative","axis":null},"y2":{"field":"q3"}}},
{"transform":[{"filter":"datum.k=='s'"}],"mark":{"type":"tick","orient":"horizontal","color":"#555555","size":20,"thickness":1.5},"encoding":{"x":{"field":"g","type":"quantitative","axis":null},"y":{"field":"md","type":"quantitative","axis":null}}}
]},
{"width":188,"height":183,"title":{"text":"ICE"},"transform":[{"filter":"datum.p==8"}],"resolve":{"axis":{"x":"independent","y":"independent"}},"layer":[
{"transform":[{"filter":"datum.k=='v'"},{"calculate":"datum.g-0.377*datum.w","as":"lo"},{"calculate":"datum.g+0.377*datum.w","as":"hi"}],"mark":{"type":"area","orient":"horizontal","strokeWidth":1},"encoding":{"y":{"field":"v","type":"quantitative","scale":{"domain":[-0.17,1.077],"nice":false,"zero":false},"axis":null},"x":{"field":"lo","type":"quantitative","scale":{"domain":[0.454,2.509],"nice":false,"zero":false},"axis":{"values":[1,2],"labelExpr":"datum.value==1?'Unambiguous':'Ambiguous'","title":null,"offset":-18,"grid":false,"domainColor":"#222","domainWidth":1.2,"tickColor":"#222","tickSize":3,"labelFont":"DejaVu Sans","labelFontSize":10,"labelColor":"#222","labelPadding":1}},"x2":{"field":"hi"},"fill":{"field":"g","type":"nominal","scale":{"domain":[1,2],"range":["#c6cbea","#f0bad6"]},"legend":null},"stroke":{"field":"g","type":"nominal","scale":{"domain":[1,2],"range":["#3d4f96","#b03a72"]},"legend":null}}},
{"transform":[{"filter":"datum.k=='s'"}],"mark":{"type":"rule","color":"#3b88cc","strokeWidth":1.5},"encoding":{"x":{"field":"g","type":"quantitative","axis":null},"y":{"field":"mn","type":"quantitative","axis":null},"y2":{"field":"mx"}}},
{"transform":[{"filter":"datum.k=='s'"},{"fold":["mn","mx","mean","md"],"as":["key","val"]}],"mark":{"type":"tick","orient":"horizontal","color":"#3b88cc","size":33,"thickness":1.5},"encoding":{"x":{"field":"g","type":"quantitative","axis":null},"y":{"field":"val","type":"quantitative","axis":null}}},
{"transform":[{"filter":"datum.k=='s'"}],"mark":{"type":"rule","color":"#8a8a8a","strokeWidth":1.5},"encoding":{"x":{"field":"g","type":"quantitative","axis":null},"y":{"field":"wl","type":"quantitative","axis":null},"y2":{"field":"wh"}}},
{"transform":[{"filter":"datum.k=='s'"},{"fold":["wl","wh"],"as":["key","val"]}],"mark":{"type":"tick","orient":"horizontal","color":"#8a8a8a","size":10,"thickness":1.5},"encoding":{"x":{"field":"g","type":"quantitative","axis":null},"y":{"field":"val","type":"quantitative","axis":null}}},
{"transform":[{"filter":"datum.k=='s'"}],"mark":{"type":"bar","size":20,"fill":"#e3e3e3","stroke":"#8a8a8a","strokeWidth":1.5},"encoding":{"x":{"field":"g","type":"quantitative","axis":null},"y":{"field":"q1","type":"quantitative","axis":null},"y2":{"field":"q3"}}},
{"transform":[{"filter":"datum.k=='s'"}],"mark":{"type":"tick","orient":"horizontal","color":"#555555","size":20,"thickness":1.5},"encoding":{"x":{"field":"g","type":"quantitative","axis":null},"y":{"field":"md","type":"quantitative","axis":null}}}
]},
{"width":188,"height":183,"title":{"text":"Deep Ensembles"},"transform":[{"filter":"datum.p==9"}],"resolve":{"axis":{"x":"independent","y":"independent"}},"layer":[
{"transform":[{"filter":"datum.k=='v'"},{"calculate":"datum.g-0.377*datum.w","as":"lo"},{"calculate":"datum.g+0.377*datum.w","as":"hi"}],"mark":{"type":"area","orient":"horizontal","strokeWidth":1},"encoding":{"y":{"field":"v","type":"quantitative","scale":{"domain":[-0.17,1.077],"nice":false,"zero":false},"axis":null},"x":{"field":"lo","type":"quantitative","scale":{"domain":[0.454,2.509],"nice":false,"zero":false},"axis":{"values":[1,2],"labelExpr":"datum.value==1?'Unambiguous':'Ambiguous'","title":null,"offset":-18,"grid":false,"domainColor":"#222","domainWidth":1.2,"tickColor":"#222","tickSize":3,"labelFont":"DejaVu Sans","labelFontSize":10,"labelColor":"#222","labelPadding":1}},"x2":{"field":"hi"},"fill":{"field":"g","type":"nominal","scale":{"domain":[1,2],"range":["#c6cbea","#f0bad6"]},"legend":null},"stroke":{"field":"g","type":"nominal","scale":{"domain":[1,2],"range":["#3d4f96","#b03a72"]},"legend":null}}},
{"transform":[{"filter":"datum.k=='s'"}],"mark":{"type":"rule","color":"#3b88cc","strokeWidth":1.5},"encoding":{"x":{"field":"g","type":"quantitative","axis":null},"y":{"field":"mn","type":"quantitative","axis":null},"y2":{"field":"mx"}}},
{"transform":[{"filter":"datum.k=='s'"},{"fold":["mn","mx","mean","md"],"as":["key","val"]}],"mark":{"type":"tick","orient":"horizontal","color":"#3b88cc","size":33,"thickness":1.5},"encoding":{"x":{"field":"g","type":"quantitative","axis":null},"y":{"field":"val","type":"quantitative","axis":null}}},
{"transform":[{"filter":"datum.k=='s'"}],"mark":{"type":"rule","color":"#8a8a8a","strokeWidth":1.5},"encoding":{"x":{"field":"g","type":"quantitative","axis":null},"y":{"field":"wl","type":"quantitative","axis":null},"y2":{"field":"wh"}}},
{"transform":[{"filter":"datum.k=='s'"},{"fold":["wl","wh"],"as":["key","val"]}],"mark":{"type":"tick","orient":"horizontal","color":"#8a8a8a","size":10,"thickness":1.5},"encoding":{"x":{"field":"g","type":"quantitative","axis":null},"y":{"field":"val","type":"quantitative","axis":null}}},
{"transform":[{"filter":"datum.k=='s'"}],"mark":{"type":"bar","size":20,"fill":"#e3e3e3","stroke":"#8a8a8a","strokeWidth":1.5},"encoding":{"x":{"field":"g","type":"quantitative","axis":null},"y":{"field":"q1","type":"quantitative","axis":null},"y2":{"field":"q3"}}},
{"transform":[{"filter":"datum.k=='s'"}],"mark":{"type":"tick","orient":"horizontal","color":"#555555","size":20,"thickness":1.5},"encoding":{"x":{"field":"g","type":"quantitative","axis":null},"y":{"field":"md","type":"quantitative","axis":null}}}
]},
{"width":188,"height":183,"title":{"text":"Ask4Conf-D"},"transform":[{"filter":"datum.p==10"}],"resolve":{"axis":{"x":"independent","y":"independent"}},"layer":[
{"transform":[{"filter":"datum.k=='v'"},{"calculate":"datum.g-0.377*datum.w","as":"lo"},{"calculate":"datum.g+0.377*datum.w","as":"hi"}],"mark":{"type":"area","orient":"horizontal","strokeWidth":1},"encoding":{"y":{"field":"v","type":"quantitative","scale":{"domain":[-0.17,1.077],"nice":false,"zero":false},"axis":null},"x":{"field":"lo","type":"quantitative","scale":{"domain":[0.454,2.509],"nice":false,"zero":false},"axis":{"values":[1,2],"labelExpr":"datum.value==1?'Unambiguous':'Ambiguous'","title":null,"offset":-18,"grid":false,"domainColor":"#222","domainWidth":1.2,"tickColor":"#222","tickSize":3,"labelFont":"DejaVu Sans","labelFontSize":10,"labelColor":"#222","labelPadding":1}},"x2":{"field":"hi"},"fill":{"field":"g","type":"nominal","scale":{"domain":[1,2],"range":["#c6cbea","#f0bad6"]},"legend":null},"stroke":{"field":"g","type":"nominal","scale":{"domain":[1,2],"range":["#3d4f96","#b03a72"]},"legend":null}}},
{"transform":[{"filter":"datum.k=='s'"}],"mark":{"type":"rule","color":"#3b88cc","strokeWidth":1.5},"encoding":{"x":{"field":"g","type":"quantitative","axis":null},"y":{"field":"mn","type":"quantitative","axis":null},"y2":{"field":"mx"}}},
{"transform":[{"filter":"datum.k=='s'"},{"fold":["mn","mx","mean","md"],"as":["key","val"]}],"mark":{"type":"tick","orient":"horizontal","color":"#3b88cc","size":33,"thickness":1.5},"encoding":{"x":{"field":"g","type":"quantitative","axis":null},"y":{"field":"val","type":"quantitative","axis":null}}},
{"transform":[{"filter":"datum.k=='s'"}],"mark":{"type":"rule","color":"#8a8a8a","strokeWidth":1.5},"encoding":{"x":{"field":"g","type":"quantitative","axis":null},"y":{"field":"wl","type":"quantitative","axis":null},"y2":{"field":"wh"}}},
{"transform":[{"filter":"datum.k=='s'"},{"fold":["wl","wh"],"as":["key","val"]}],"mark":{"type":"tick","orient":"horizontal","color":"#8a8a8a","size":10,"thickness":1.5},"encoding":{"x":{"field":"g","type":"quantitative","axis":null},"y":{"field":"val","type":"quantitative","axis":null}}},
{"transform":[{"filter":"datum.k=='s'"}],"mark":{"type":"bar","size":20,"fill":"#e3e3e3","stroke":"#8a8a8a","strokeWidth":1.5},"encoding":{"x":{"field":"g","type":"quantitative","axis":null},"y":{"field":"q1","type":"quantitative","axis":null},"y2":{"field":"q3"}}},
{"transform":[{"filter":"datum.k=='s'"}],"mark":{"type":"tick","orient":"horizontal","color":"#555555","size":20,"thickness":1.5},"encoding":{"x":{"field":"g","type":"quantitative","axis":null},"y":{"field":"md","type":"quantitative","axis":null}}}
]}
],
"config": {
"view": {"stroke": "#8c8c8c", "strokeWidth": 1},
"title": {"orient": "bottom", "font": "Open Sans", "fontSize": 13, "color": "#111111", "offset": 4, "anchor": "middle", "fontWeight": "normal"}
}
}
